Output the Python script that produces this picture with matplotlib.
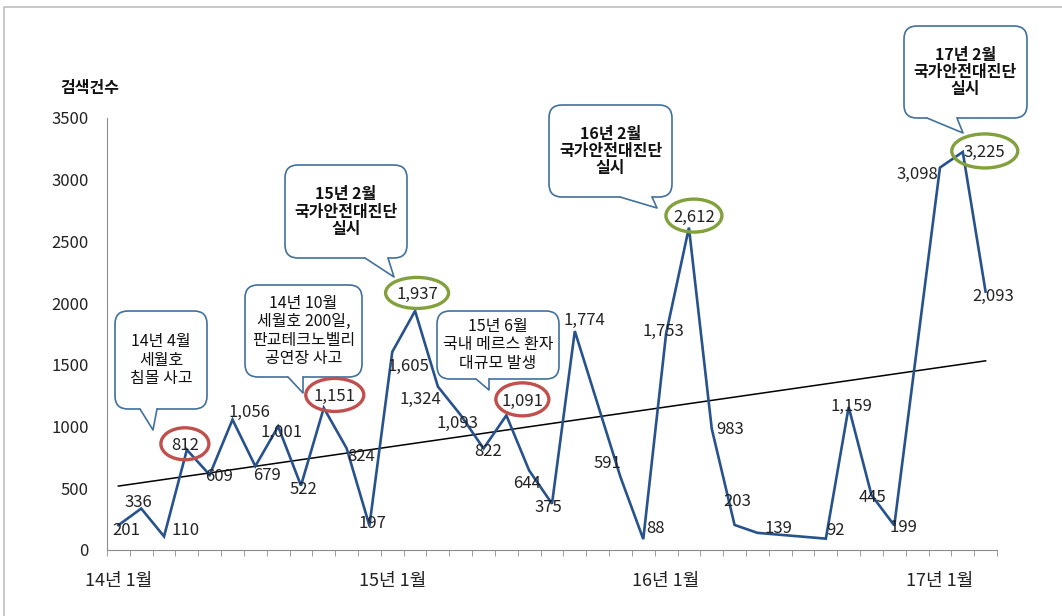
import numpy as np
import matplotlib
matplotlib.use('Agg')
import matplotlib.pyplot as plt
from matplotlib.patches import FancyBboxPatch, Ellipse, Polygon

plt.rcParams['font.family'] = ['Noto Sans CJK KR', 'DejaVu Sans']

# monthly search counts, 14년 1월 .. 17년 3월 (None = no value, line is joined across)
counts = [201, 336, 110, 812, 609, 1056, 679, 1001, 522, 1151, 824, 197,
          1605, 1937, 1324, 1093, 822, 1091, 644, 375, 1774, None, 591, 88,
          1753, 2612, 983, 203, 139, None, None, 92, 1159, 445, 199, None,
          3098, 3225, 2093]
tick_pos = [0, 12, 24, 36]
tick_labels = ['14년 1월', '15년 1월', '16년 1월', '17년 1월']
y_ticks = [0, 500, 1000, 1500, 2000, 2500, 3000, 3500]

# highlighted months: index -> ellipse colour
red_marks = [3, 9, 17]
green_marks = [13, 25, 37]

callout_texts = ['14년 4월\n세월호\n침몰 사고',
                 '14년 10월\n세월호 200일,\n판교테크노벨리\n공연장 사고',
                 '15년 2월\n국가안전대진단\n실시',
                 '15년 6월\n국내 메르스 환자\n대규모 발생',
                 '16년 2월\n국가안전대진단\n실시',
                 '17년 2월\n국가안전대진단\n실시']

W, H = 1062, 616
fig = plt.figure(figsize=(W / 100, H / 100), dpi=100)
ax = fig.add_axes([107 / W, 1 - 550 / H, 890 / W, 432 / H])

x = np.array([i for i, v in enumerate(counts) if v is not None])
y = np.array([v for v in counts if v is not None], dtype=float)

line_blue = '#27528C'
ax.plot(x, y, color=line_blue, lw=1.9, zorder=3, solid_joinstyle='miter')

# linear trend line (least squares)
k, b = np.polyfit(x, y, 1)
xt = np.array([0, len(counts) - 1])
ax.plot(xt, k * xt + b, color='black', lw=1.1, zorder=2)

ax.set_xlim(-0.5, len(counts) - 0.5)
ax.set_ylim(0, 3500)
for s in ['top', 'right']:
    ax.spines[s].set_visible(False)
for s in ['left', 'bottom']:
    ax.spines[s].set_color('#8C8C8C')
ax.set_yticks(y_ticks)
ax.set_yticklabels([str(t) for t in y_ticks], fontsize=12, color='#222222')
ax.set_xticks(tick_pos)
ax.set_xticklabels(tick_labels, fontsize=13, color='#222222')
ax.set_xticks(np.arange(-0.5, len(counts), 1), minor=True)
ax.tick_params(axis='y', length=0, pad=13)
ax.tick_params(axis='x', which='major', length=0, pad=16)
ax.tick_params(axis='x', which='minor', length=4, color='#8C8C8C', direction='out')

# label offsets in pixels (right, down) from each point
label_off = {0: (8, 5), 1: (-3, -6), 2: (22, -6), 3: (-2, -4), 4: (9, 2),
             5: (17, -7), 6: (12, 9), 7: (3, 6), 8: (2, 4), 9: (11, -11),
             10: (15, 8), 11: (3, -2), 12: (16, 15), 13: (2, -16), 14: (-18, 13),
             15: (-3, 8), 16: (5, 3), 17: (16, -14), 18: (-2, 13), 19: (-4, 4),
             20: (10, -11), 22: (-13, -14), 23: (12, -11), 24: (-3, -2),
             25: (5, -10), 26: (18, 1), 27: (3, -23), 28: (21, -4), 31: (10, -8),
             32: (3, 0), 33: (1, 2), 34: (9, 2), 36: (-23, 7), 37: (22, 1),
             38: (8, 5)}

# overlay in pixel coordinates (y downward) for callouts and rings
ov = fig.add_axes([0, 0, 1, 1], zorder=10)
ov.set_xlim(0, W)
ov.set_ylim(H, 0)
ov.axis('off')
ov.patch.set_alpha(0)


def to_px(i, v):
    px, py = ax.transData.transform((i, v))
    return px, H - py


label_pos = {}
for i, v in enumerate(counts):
    if v is None:
        continue
    px, py = to_px(i, v)
    dx, dy = label_off[i]
    label_pos[i] = (px + dx, py + dy)
    ov.text(px + dx, py + dy, f'{v:,}', fontsize=12, color='#222222',
            ha='center', va='center', zorder=4)

ring_size = {3: (48, 32), 9: (58, 33), 17: (53, 33), 13: (63, 31), 25: (56, 33), 37: (66, 34)}
for i in red_marks + green_marks:
    cx, cy = label_pos[i]
    w, h = ring_size[i]
    col = '#C0504D' if i in red_marks else '#82A03C'
    ov.add_patch(Ellipse((cx, cy - 2), w, h, fill=False, ec=col, lw=2.4, zorder=9))

box_blue = '#41719C'


def callout(x0, y0, x1, y1, b1, b2, tip, text, bold):
    ov.add_patch(FancyBboxPatch((x0, y0), x1 - x0, y1 - y0,
                                boxstyle='round,pad=0,rounding_size=13',
                                fc='white', ec=box_blue, lw=1.2, zorder=5))
    ov.add_patch(Polygon([(b1, y1 - 2), (b1, y1), tip, (b2, y1), (b2, y1 - 2)],
                         closed=True, fc='white', ec='none', zorder=6))
    ov.plot([b1, tip[0], b2], [y1, tip[1], y1], color=box_blue, lw=1.2, zorder=7)
    ov.text((x0 + x1) / 2, (y0 + y1) / 2, text, fontsize=11.5, ha='center', va='center',
            linespacing=1.1, fontweight='bold' if bold else 'normal',
            color='#111111', zorder=8)


callout(115, 311, 207, 409, 140, 157, (153, 430), callout_texts[0], False)
callout(245, 285, 362, 377, 288, 303, (303, 393), callout_texts[1], False)
callout(285, 165, 407, 258, 365, 388, (394, 277), callout_texts[2], True)
callout(437, 311, 559, 379, 476, 489, (489, 390), callout_texts[3], False)
callout(549, 105, 672, 197, 620, 652, (657, 208), callout_texts[4], True)
callout(904, 26, 1027, 118, 927, 957, (963, 133), callout_texts[5], True)

ov.text(90, 88, '검색건수', fontsize=11.5, fontweight='bold', ha='center', va='center',
        color='#111111')

# outer chart frame
ov.plot([4, 4, W], [H, 7, 7], color='#BFBFBF', lw=1.2, zorder=1)

fig.savefig('out.png', dpi=100)
